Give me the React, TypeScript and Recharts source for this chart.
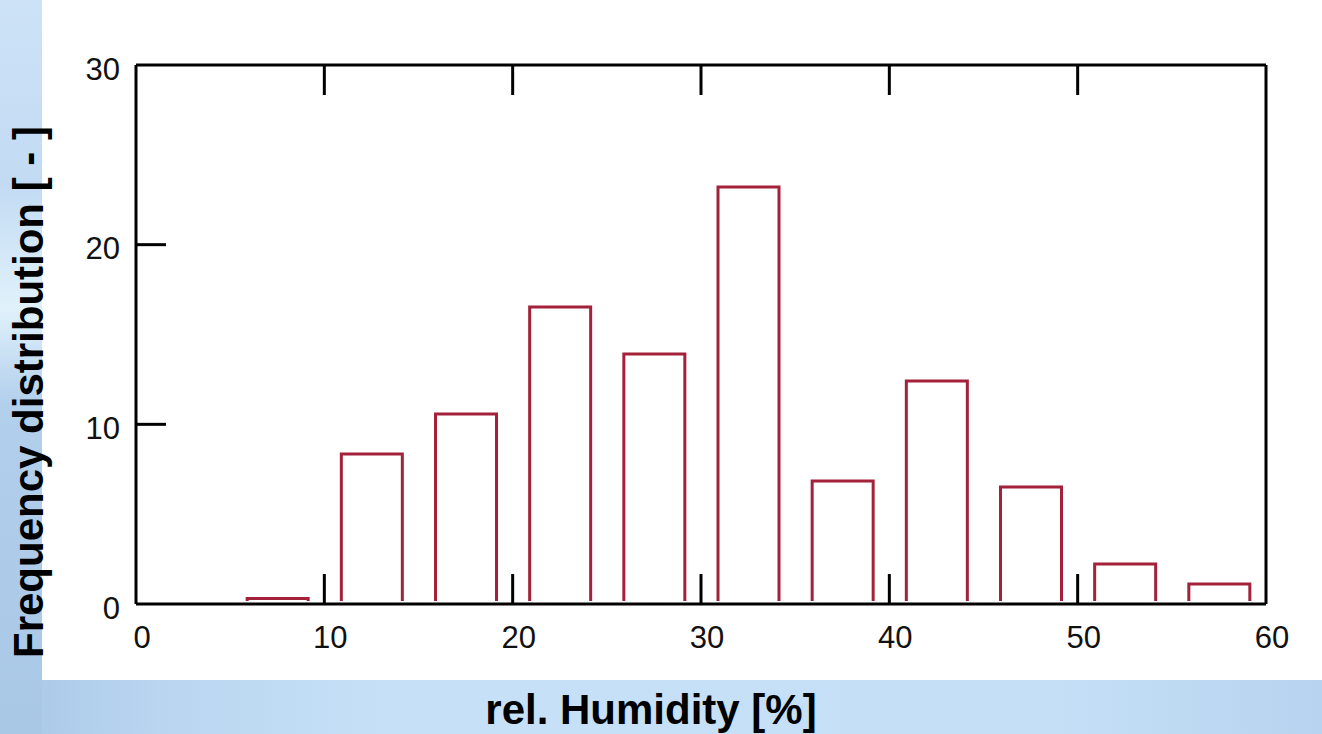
import { ComposedChart, Bar, XAxis, YAxis } from "recharts";

// bin centres [% rel. humidity] and frequency per bin
const binCenters = [7.5, 12.5, 17.5, 22.5, 27.5, 32.5, 37.5, 42.5, 47.5, 52.5, 57.5];
const frequencies = [0.3, 8.35, 10.57, 16.53, 13.91, 23.21, 6.85, 12.41, 6.51, 2.23, 1.11];
const xTicks = [0, 10, 20, 30, 40, 50, 60];
const yTicks = [0, 10, 20, 30];

const data = binCenters.map((x, i) => ({ x, freq: frequencies[i] }));

const TICK_LEN = 30;
const BAR_COLOR = "#a3213a";
const tickFont = { fontFamily: "'Liberation Sans', Arial, sans-serif", fontSize: 31, fill: "#111" };

const OpenBar = (props: any) => {
  const { x, y, width, height } = props;
  if (width == null || height == null) return null;
  const bottom = y + height - 3;
  return (
    <path
      d={`M${x},${bottom} L${x},${y} L${x + width},${y} L${x + width},${bottom}`}
      fill="none"
      stroke={BAR_COLOR}
      strokeWidth={3}
    />
  );
};

const BottomTick = (props: any) => {
  const { x, y, payload } = props;
  const v = payload.value;
  return (
    <g>
      {v !== 0 && v !== 60 && <line x1={x} y1={y} x2={x} y2={y - TICK_LEN} stroke="#000" strokeWidth={3} />}
      <text x={x + 6} y={y + 33} textAnchor="middle" dominantBaseline="central" {...tickFont}>
        {v}
      </text>
    </g>
  );
};

const TopTick = (props: any) => {
  const { x, y, payload } = props;
  const v = payload.value;
  if (v === 0 || v === 60) return null;
  return <line x1={x} y1={y} x2={x} y2={y + TICK_LEN} stroke="#000" strokeWidth={3} />;
};

const LeftTick = (props: any) => {
  const { x, y, payload } = props;
  const v = payload.value;
  return (
    <g>
      {v !== 0 && v !== 30 && <line x1={x} y1={y} x2={x + TICK_LEN} y2={y} stroke="#000" strokeWidth={3} />}
      <text x={x - 16} y={y + 4} textAnchor="end" dominantBaseline="central" {...tickFont}>
        {v}
      </text>
    </g>
  );
};

const RightTick = (props: any) => {
  const { x, y, payload } = props;
  const v = payload.value;
  if (v === 0 || v === 30) return null;
  return <line x1={x} y1={y} x2={x - TICK_LEN} y2={y} stroke="#000" strokeWidth={3} />;
};

export default function App() {
  return (
    <div style={{ position: "relative", width: 1322, height: 734, overflow: "hidden" }}>
      <style>{`body{margin:0}`}</style>
      <div
        style={{
          position: "absolute",
          inset: 0,
          background:
            "linear-gradient(90deg, #a9c8e6 0%, #b9d5f0 12%, #c6e1f7 30%, #c4dff6 80%, #b7d3ef 100%)",
        }}
      />
      <div
        style={{
          position: "absolute",
          left: 0,
          top: 0,
          width: 42,
          height: 734,
          background:
            "linear-gradient(180deg, #cde2f7 0%, #c2dbf3 25%, #e0f1fb 42%, #b2cfec 55%, #a9c8e6 100%)",
        }}
      />
      <div style={{ position: "absolute", left: 42, top: 0, width: 1280, height: 680, background: "#fff" }} />
      <div style={{ position: "absolute", left: 0, top: 0 }}>
        <ComposedChart width={1322} height={734} data={data} margin={{ top: 0, right: 0, bottom: 0, left: 0 }}>
          <XAxis
            xAxisId="bottom"
            dataKey="x"
            type="number"
            domain={[0, 60]}
            ticks={xTicks}
            height={130}
            tickSize={0}
            tickMargin={0}
            tickLine={false}
            axisLine={{ stroke: "#000", strokeWidth: 3 }}
            tick={<BottomTick />}
            interval={0}
          />
          <XAxis
            xAxisId="top"
            orientation="top"
            dataKey="x"
            type="number"
            domain={[0, 60]}
            ticks={xTicks}
            height={65}
            tickSize={0}
            tickMargin={0}
            tickLine={false}
            axisLine={{ stroke: "#000", strokeWidth: 3 }}
            tick={<TopTick />}
            interval={0}
          />
          <YAxis
            yAxisId="left"
            type="number"
            domain={[0, 30]}
            ticks={yTicks}
            width={136}
            tickSize={0}
            tickMargin={0}
            tickLine={false}
            axisLine={{ stroke: "#000", strokeWidth: 3 }}
            tick={<LeftTick />}
            interval={0}
          />
          <YAxis
            yAxisId="right"
            orientation="right"
            type="number"
            domain={[0, 30]}
            ticks={yTicks}
            width={56}
            tickSize={0}
            tickMargin={0}
            tickLine={false}
            axisLine={{ stroke: "#000", strokeWidth: 3 }}
            tick={<RightTick />}
            interval={0}
          />
          <Bar
            xAxisId="bottom"
            yAxisId="left"
            dataKey="freq"
            barSize={61}
            shape={<OpenBar />}
            isAnimationActive={false}
          />
        </ComposedChart>
      </div>
      <svg width={1322} height={734} style={{ position: "absolute", left: 0, top: 0, pointerEvents: "none" }}>
        <text
          transform="translate(43,392) rotate(-90)"
          textAnchor="middle"
          fontFamily="'Liberation Sans', Arial, sans-serif"
          fontWeight="bold"
          fontSize={42}
          fill="#000"
        >
          Frequency distribution [ - ]
        </text>
        <text
          x={651}
          y={724}
          textAnchor="middle"
          fontFamily="'Liberation Sans', Arial, sans-serif"
          fontWeight="bold"
          fontSize={42}
          fill="#000"
        >
          rel. Humidity [%]
        </text>
      </svg>
    </div>
  );
}
